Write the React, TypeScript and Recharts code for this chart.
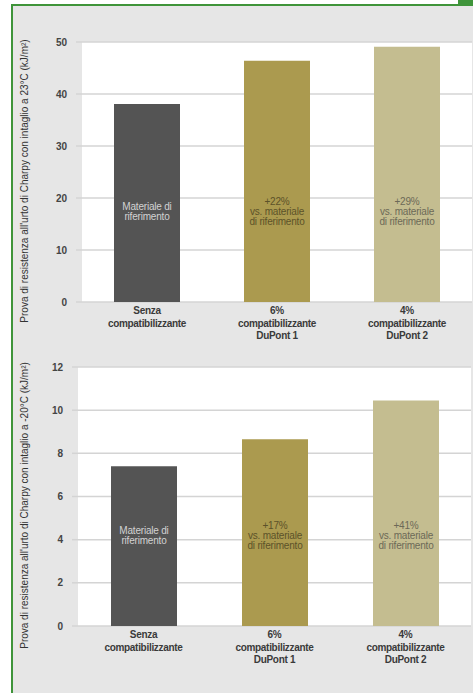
import React from "react";
import { BarChart, Bar, Cell, XAxis, YAxis, CartesianGrid, LabelList } from "recharts";

const categories = [
  "Senza\ncompatibilizzante",
  "6%\ncompatibilizzante\nDuPont 1",
  "4%\ncompatibilizzante\nDuPont 2",
];

// Charpy notched impact strength, kJ/m²
const impact23 = [38.1, 46.4, 49.1];
const impactMinus20 = [7.4, 8.65, 10.45];

const notes23 = [
  "Materiale di\nriferimento",
  "+22%\nvs. materiale\ndi riferimento",
  "+29%\nvs. materiale\ndi riferimento",
];
const notesMinus20 = [
  "Materiale di\nriferimento",
  "+17%\nvs. materiale\ndi riferimento",
  "+41%\nvs. materiale\ndi riferimento",
];

const ticks23 = [0, 10, 20, 30, 40, 50];
const ticksMinus20 = [0, 2, 4, 6, 8, 10, 12];

const BAR_COLORS = ["#545454", "#ab9a4f", "#c4bd90"];
const NOTE_COLORS = ["#d2d2d2", "#5c5229", "#6c6957"];
const GRID = "#d4d4d4";
const GREEN = "#3f943a";
const FONT = "'Liberation Sans', Arial, sans-serif";

function CategoryTick({ x, y, payload }: any) {
  const lines = String(payload.value).split("\n");
  return (
    <text x={x} y={y} textAnchor="middle" fontFamily={FONT} fontSize={10} fontWeight="bold" fill="#3a3a3a" letterSpacing={-0.3}>
      {lines.map((line, i) => (
        <tspan key={i} x={x} dy={i === 0 ? 12 : 12.5}>
          {line}
        </tspan>
      ))}
    </text>
  );
}

function BarNote({ x, y, width, height, value, index }: any) {
  const lines = String(value).split("\n");
  const cx = x + width / 2;
  const cy = y + height - 90;
  const first = cy - ((lines.length - 1) * 10) / 2 + 3;
  return (
    <text x={cx} y={first} textAnchor="middle" fontFamily={FONT} fontSize={10} fill={NOTE_COLORS[index]} letterSpacing={-0.2}>
      {lines.map((line, i) => (
        <tspan key={i} x={cx} dy={i === 0 ? 0 : 10}>
          {line}
        </tspan>
      ))}
    </text>
  );
}

type ChartProps = {
  values: number[];
  notes: string[];
  ticks: number[];
  title: string;
  top: number;
  height: number;
  marginTop: number;
  marginRight: number;
  axisWidth: number;
  xAxisHeight: number;
};

function ImpactChart({ values, notes, ticks, title, top, height, marginTop, marginRight, axisWidth, xAxisHeight }: ChartProps) {
  const data = categories.map((name, i) => ({ name, value: values[i], note: notes[i] }));
  const max = ticks[ticks.length - 1];

  const axisTitle = (props: any) => {
    const vb = props.viewBox;
    const cx = vb.x + 28;
    const cy = vb.y + vb.height / 2 + 9;
    return (
      <text x={cx} y={cy} transform={`rotate(-90 ${cx} ${cy})`} textAnchor="middle" fontFamily={FONT} fontSize={10} fill="#333333">
        {title}
      </text>
    );
  };

  return (
    <div style={{ position: "absolute", left: 0, top }}>
      <BarChart width={473} height={height} data={data} margin={{ top: marginTop, right: marginRight, bottom: 0, left: 0 }}>
        <CartesianGrid vertical={false} fill="#ffffff" stroke={GRID} strokeWidth={1.5} />
        <XAxis
          dataKey="name"
          interval={0}
          height={xAxisHeight}
          axisLine={false}
          tickLine={false}
          tickSize={0}
          tickMargin={0}
          tick={<CategoryTick />}
        />
        <YAxis
          domain={[0, max]}
          ticks={ticks}
          width={axisWidth}
          axisLine={false}
          tickLine={{ stroke: GRID, strokeWidth: 1.5 }}
          tickSize={6}
          tickMargin={9}
          tick={{ fontFamily: FONT, fontSize: 10, fontWeight: "bold", fill: "#444444" }}
          label={axisTitle}
        />
        <Bar dataKey="value" barSize={66} isAnimationActive={false}>
          {data.map((_, i) => (
            <Cell key={i} fill={BAR_COLORS[i]} />
          ))}
          <LabelList dataKey="note" content={<BarNote />} />
        </Bar>
      </BarChart>
    </div>
  );
}

export default function App() {
  return (
    <div style={{ position: "relative", width: 473, height: 693, background: "#ffffff", overflow: "hidden" }}>
      <style>{`body { margin: 0; }`}</style>
      {/* green frame */}
      <div
        style={{
          position: "absolute",
          left: 11,
          top: 4,
          width: 462,
          height: 689,
          background: "#e6e6e6",
          borderLeft: `2px solid ${GREEN}`,
          borderTop: `2px solid ${GREEN}`,
          boxSizing: "border-box",
        }}
      />
      <div style={{ position: "absolute", left: 458, top: 0, width: 15, height: 6, background: GREEN }} />

      <ImpactChart
        values={impact23}
        notes={notes23}
        ticks={ticks23}
        title="Prova di resistenza all'urto di Charpy con intaglio a 23°C (kJ/m²)"
        top={0}
        height={347}
        marginTop={42}
        marginRight={1}
        axisWidth={82}
        xAxisHeight={45}
      />
      <ImpactChart
        values={impactMinus20}
        notes={notesMinus20}
        ticks={ticksMinus20}
        title="Prova di resistenza all'urto di Charpy con intaglio a -20°C (kJ/m²)"
        top={347}
        height={346}
        marginTop={20}
        marginRight={2}
        axisWidth={78}
        xAxisHeight={67}
      />
    </div>
  );
}
